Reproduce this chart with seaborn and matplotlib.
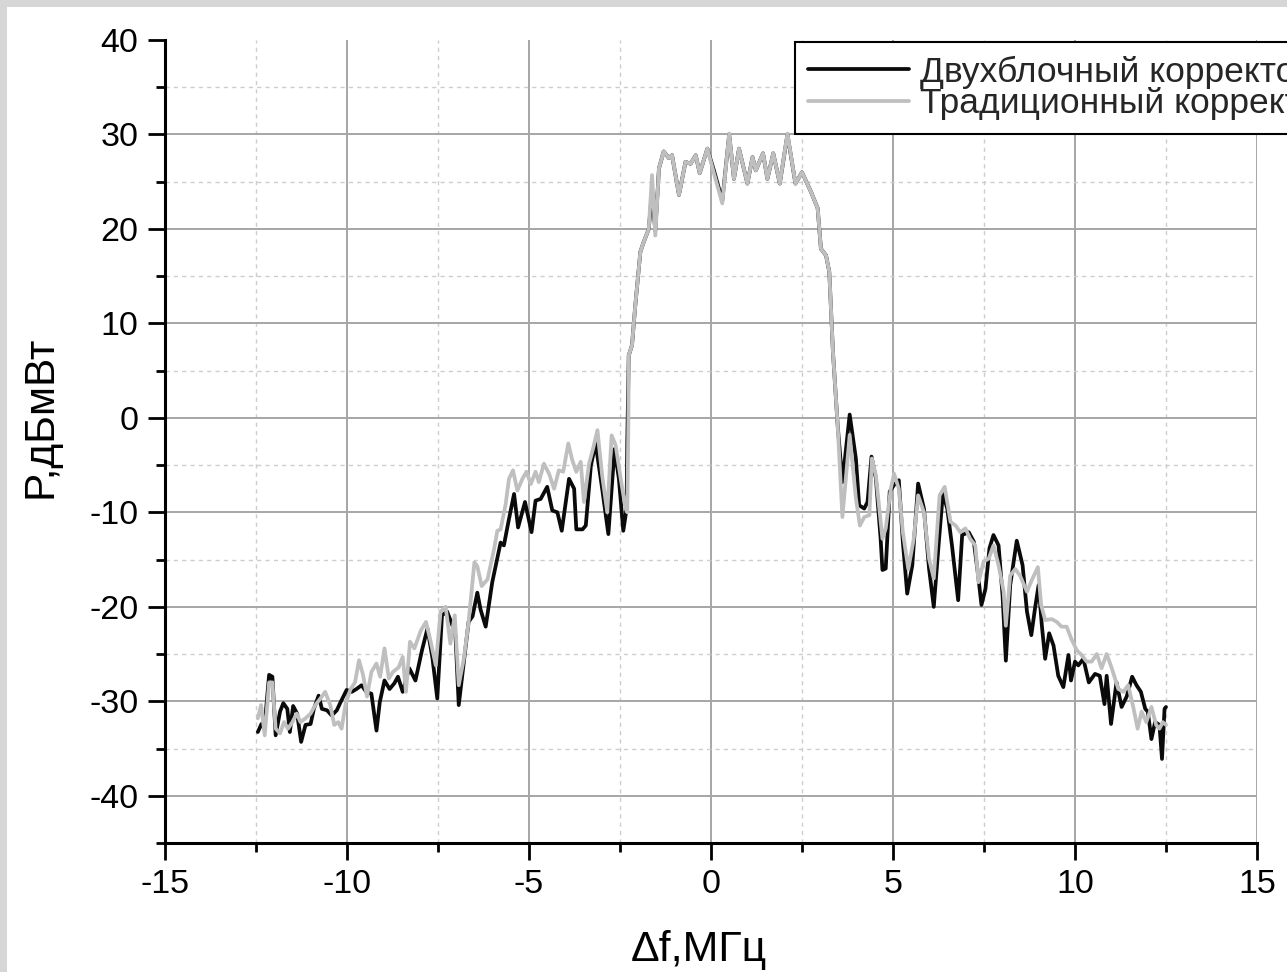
import matplotlib
matplotlib.use("Agg")
import matplotlib.pyplot as plt
import seaborn as sns
import pandas as pd
from matplotlib.legend_handler import HandlerLine2D
from matplotlib.patches import Rectangle
from matplotlib.ticker import MultipleLocator

# ---------------- data ----------------
series_names = ["Двухблочный корректор", "Традиционный корректор"]

freq_two_block = [
    -12.45, -12.35, -12.27, -12.14, -12.05, -11.96, -11.84, -11.75, -11.64, -11.57,
    -11.48, -11.37, -11.26, -11.14, -11.0, -10.91, -10.78, -10.69, -10.55, -10.42,
    -10.28, -10.19, -10.01, -9.87, -9.74, -9.6, -9.47, -9.33, -9.19, -9.1,
    -8.97, -8.83, -8.7, -8.6, -8.47, -8.29, -8.12, -7.94, -7.79, -7.65,
    -7.52, -7.39, -7.25, -7.11, -7.02, -6.93, -6.79, -6.66, -6.55, -6.42,
    -6.33, -6.19, -6.01, -5.78, -5.69, -5.55, -5.41, -5.3, -5.11, -4.93,
    -4.82, -4.68, -4.5, -4.36, -4.22, -4.1, -3.9, -3.76, -3.7, -3.53,
    -3.44, -3.3, -3.17, -2.99, -2.82, -2.65, -2.53, -2.41, -2.32, -2.3,
    -2.26, -2.17, -2.08, -1.94, -1.85, -1.71, -1.62, -1.53, -1.43, -1.3,
    -1.16, -1.07, -0.88, -0.7, -0.56, -0.42, -0.31, -0.1, 0.08, 0.31,
    0.5, 0.63, 0.77, 1.0, 1.14, 1.23, 1.43, 1.55, 1.71, 1.89,
    2.1, 2.32, 2.5, 2.75, 2.93, 3.02, 3.16, 3.25, 3.35, 3.48,
    3.61, 3.81, 3.98, 4.07, 4.21, 4.3, 4.41, 4.53, 4.66, 4.71,
    4.8, 4.91, 5.03, 5.16, 5.27, 5.39, 5.53, 5.69, 5.85, 5.99,
    6.12, 6.26, 6.37, 6.49, 6.62, 6.79, 6.9, 7.08, 7.22, 7.34,
    7.43, 7.54, 7.65, 7.76, 7.9, 8.01, 8.1, 8.22, 8.4, 8.56,
    8.68, 8.8, 8.9, 9.0, 9.09, 9.18, 9.29, 9.41, 9.54, 9.68,
    9.82, 9.89, 10.0, 10.09, 10.23, 10.38, 10.55, 10.68, 10.81, 10.87,
    10.99, 11.14, 11.28, 11.42, 11.57, 11.69, 11.81, 11.93, 12.0, 12.1,
    12.2, 12.32, 12.39, 12.46, 12.5,
]
power_two_block = [
    -33.25, -32.4, -32.9, -27.2, -27.4, -33.6, -31.1, -30.2, -30.8, -33.25,
    -30.5, -31.3, -34.3, -32.5, -32.4, -30.8, -29.4, -30.8, -30.95, -31.5,
    -30.95, -30.2, -28.8, -29.0, -28.7, -28.3, -29.0, -29.2, -33.1, -30.1,
    -27.8, -28.7, -28.1, -27.4, -29.0, -26.5, -27.8, -24.6, -22.3, -25.5,
    -29.7, -20.9, -20.5, -21.9, -23.0, -30.4, -25.8, -21.6, -21.0, -18.5,
    -20.3, -22.1, -17.4, -13.2, -13.5, -10.7, -8.05, -11.6, -8.9, -12.1,
    -8.76, -8.58, -7.3, -9.8, -10.0, -11.95, -6.45, -7.5, -11.8, -11.8,
    -11.4, -5.05, -2.7, -7.5, -12.3, -3.3, -6.45, -11.95, -9.65, -2.5,
    6.6, 7.7, 11.9, 17.6, 18.6, 20.0, 24.0, 19.8, 26.4, 28.2,
    27.5, 27.8, 23.6, 27.1, 26.9, 27.8, 25.9, 28.5, 26.2, 23.0,
    30.0, 25.3, 28.5, 24.8, 27.6, 26.2, 28.0, 25.3, 28.0, 24.8,
    30.0, 24.8, 26.0, 23.9, 22.2, 17.9, 17.2, 15.45, 7.0, -0.8,
    -6.8, 0.35, -4.3, -9.25, -9.6, -8.9, -4.1, -6.4, -12.8, -16.1,
    -15.95, -7.8, -7.1, -6.6, -13.1, -18.6, -15.6, -6.95, -9.6, -15.95,
    -20.0, -13.1, -8.0, -9.6, -13.5, -19.3, -12.4, -12.1, -13.1, -16.7,
    -19.8, -18.1, -13.8, -12.4, -13.5, -18.8, -25.7, -17.7, -13.0, -15.6,
    -20.5, -23.0, -20.2, -17.7, -22.0, -25.5, -22.8, -24.1, -27.3, -28.5,
    -25.1, -27.8, -25.8, -26.2, -25.5, -28.0, -27.1, -27.3, -30.3, -27.3,
    -32.4, -28.0, -30.6, -29.5, -27.4, -28.3, -29.0, -30.8, -31.1, -34.0,
    -32.2, -32.5, -36.1, -30.8, -30.6,
]

freq_traditional = [
    -12.45, -12.36, -12.26, -12.14, -12.05, -11.96, -11.84, -11.73, -11.62, -11.5,
    -11.38, -11.28, -11.14, -11.0, -10.87, -10.73, -10.6, -10.46, -10.35, -10.24,
    -10.15, -10.03, -9.9, -9.78, -9.67, -9.56, -9.45, -9.33, -9.19, -9.09,
    -8.97, -8.85, -8.74, -8.58, -8.47, -8.38, -8.27, -8.15, -7.97, -7.83,
    -7.7, -7.56, -7.43, -7.29, -7.16, -7.04, -6.93, -6.79, -6.66, -6.5,
    -6.42, -6.3, -6.14, -5.96, -5.87, -5.78, -5.64, -5.55, -5.44, -5.32,
    -5.18, -5.07, -4.95, -4.82, -4.73, -4.59, -4.45, -4.31, -4.18, -4.06,
    -3.92, -3.81, -3.7, -3.58, -3.49, -3.35, -3.24, -3.12, -2.99, -2.85,
    -2.73, -2.62, -2.48, -2.36, -2.3, -2.27, -2.26, -2.17, -2.08, -1.94,
    -1.85, -1.71, -1.62, -1.53, -1.43, -1.3, -1.16, -1.07, -0.88, -0.7,
    -0.56, -0.42, -0.31, -0.1, 0.08, 0.31, 0.5, 0.63, 0.77, 1.0,
    1.14, 1.23, 1.43, 1.55, 1.71, 1.89, 2.1, 2.32, 2.5, 2.75,
    2.93, 3.02, 3.16, 3.25, 3.35, 3.48, 3.61, 3.81, 3.98, 4.09,
    4.21, 4.35, 4.42, 4.53, 4.71, 4.8, 4.94, 5.03, 5.16, 5.27,
    5.42, 5.57, 5.69, 5.85, 5.99, 6.12, 6.28, 6.42, 6.58, 6.72,
    6.85, 6.99, 7.12, 7.26, 7.35, 7.49, 7.63, 7.76, 7.9, 8.04,
    8.1, 8.22, 8.36, 8.49, 8.68, 8.81, 8.98, 9.07, 9.18, 9.36,
    9.5, 9.63, 9.77, 9.9, 10.05, 10.18, 10.32, 10.46, 10.6, 10.73,
    10.87, 11.01, 11.19, 11.33, 11.46, 11.6, 11.72, 11.83, 11.96, 12.1,
    12.23, 12.32, 12.41, 12.5,
]
power_traditional = [
    -31.8, -30.4, -33.6, -28.0, -28.0, -32.9, -33.4, -32.2, -32.9, -32.2,
    -31.3, -32.2, -31.8, -31.3, -30.4, -29.7, -29.0, -30.4, -32.5, -32.2,
    -32.9, -30.1, -28.7, -28.0, -25.65, -27.2, -29.5, -26.9, -26.0, -27.4,
    -24.4, -27.6, -26.9, -26.4, -25.3, -29.0, -23.7, -24.4, -22.5, -21.6,
    -23.7, -26.2, -20.5, -20.0, -23.9, -20.9, -28.3, -25.5, -21.6, -15.3,
    -15.7, -17.8, -17.1, -13.9, -11.95, -11.8, -9.1, -6.45, -5.55, -7.7,
    -6.45, -5.7, -7.0, -5.7, -6.8, -4.85, -5.9, -7.5, -5.55, -5.7,
    -2.7, -4.5, -5.7, -4.65, -8.9, -4.85, -3.25, -1.3, -6.1, -10.0,
    -1.85, -2.9, -6.45, -9.3, -10.0, -0.4, 6.6, 7.7, 11.9, 17.6,
    18.6, 20.0, 25.7, 19.3, 26.4, 28.2, 27.5, 27.8, 23.6, 27.1,
    26.9, 27.8, 25.9, 28.5, 25.9, 22.7, 30.1, 25.3, 28.5, 24.8,
    27.6, 26.2, 28.0, 25.3, 28.0, 24.8, 30.1, 24.8, 26.0, 23.9,
    22.2, 17.9, 17.2, 15.45, 7.0, -0.8, -10.5, -1.8, -8.5, -11.4,
    -10.5, -10.3, -4.3, -6.1, -12.8, -11.7, -7.5, -5.9, -7.5, -12.1,
    -16.0, -12.8, -8.2, -10.0, -14.9, -17.0, -8.2, -7.3, -11.0, -11.4,
    -12.1, -11.7, -12.8, -13.5, -17.4, -15.2, -14.9, -13.5, -15.6, -18.4,
    -22.0, -16.7, -16.0, -16.7, -18.4, -17.2, -15.8, -19.8, -21.4, -21.3,
    -21.6, -22.1, -22.1, -23.4, -24.6, -25.1, -25.8, -25.8, -25.0, -26.5,
    -25.0, -26.5, -28.7, -29.0, -28.3, -30.6, -32.9, -31.1, -32.2, -30.6,
    -32.5, -32.9, -32.2, -32.5,
]

x_ticks = [-15, -10, -5, 0, 5, 10, 15]
y_ticks = [-40, -30, -20, -10, 0, 10, 20, 30, 40]
x_label = "Δf,МГц"
y_label = "P,дБмВт"

# ---------------- style ----------------
sns.set_theme(style="white")
plt.rcParams["font.family"] = ["Liberation Sans", "DejaVu Sans"]

W, H = 1287, 972
fig = plt.figure(figsize=(W / 100, H / 100), dpi=100, facecolor="#d6d6d6")
fig.patches.append(Rectangle((7 / W, 0), 1 - 7 / W, 1 - 7 / H, transform=fig.transFigure,
                             facecolor="white", edgecolor="none", zorder=-10))

ax = fig.add_axes([165 / W, 1 - 843 / H, (1257 - 165) / W, (843 - 40) / H])
ax.set_facecolor("white")
ax.set_zorder(1)

df_two = pd.DataFrame({"f": freq_two_block, "p": power_two_block})
df_trad = pd.DataFrame({"f": freq_traditional, "p": power_traditional})

black_c = "#0a0a0a"
grey_c = "#bfbfbf"
LW = 2.7
sns.lineplot(data=df_two, x="f", y="p", ax=ax, color=black_c, lw=LW, sort=False,
             estimator=None, label=series_names[0], zorder=3)
sns.lineplot(data=df_trad, x="f", y="p", ax=ax, color=grey_c, lw=LW, sort=False,
             estimator=None, label=series_names[1], zorder=4)

ax.set_xlim(-15, 15)
ax.set_ylim(-45, 40)
ax.set_xticks(x_ticks)
ax.set_yticks(y_ticks)
ax.xaxis.set_minor_locator(MultipleLocator(2.5))
ax.yaxis.set_minor_locator(MultipleLocator(5))
ax.set_xticklabels([str(v) for v in x_ticks])
ax.set_yticklabels([str(v) for v in y_ticks])

ax.grid(which="major", color="#a6a6a6", lw=1.4, ls="-", zorder=1)
ax.grid(which="minor", color="#cdcdcd", lw=1.0, ls=(0, (3, 3)), zorder=1)
ax.set_axisbelow(True)
for gl, v in zip(ax.get_ygridlines(), y_ticks):
    if v == 40:
        gl.set_visible(False)

for side in ["top", "right"]:
    ax.spines[side].set_visible(False)
for side in ["left", "bottom"]:
    ax.spines[side].set_visible(True)
    ax.spines[side].set_color("black")
    ax.spines[side].set_linewidth(2.2)

ax.tick_params(which="major", direction="out", length=12, width=2.0, color="black",
               labelsize=24.5, labelcolor="black")
ax.tick_params(which="minor", direction="out", length=6.5, width=2.0, color="black")
ax.tick_params(axis="y", which="major", pad=7)
ax.tick_params(axis="x", which="major", pad=7)
ax.tick_params(which="both", bottom=True, left=True)

ax.set_xlabel("")
ax.set_ylabel("")
fig.text(699 / W, 1 - 950 / H, x_label, fontsize=31, ha="center", va="center", color="black")
fig.text(41 / W, 1 - 417 / H, y_label, fontsize=30.5, ha="center", va="center",
         rotation=90, color="black")


class ShortHandler(HandlerLine2D):
    def create_artists(self, legend, orig_handle, xdescent, ydescent, width, height,
                       fontsize, trans):
        arts = super().create_artists(legend, orig_handle, xdescent, ydescent, width,
                                      height, fontsize, trans)
        for a in arts:
            xd = a.get_xdata()
            if len(xd) == 2:
                a.set_xdata([xd[0] + 0.21 * width, xd[1]])
        return arts


handles, labels = ax.get_legend_handles_labels()
leg = ax.legend(handles, labels, loc="upper left",
                bbox_to_anchor=(795 / W, 1 - 42 / H), bbox_transform=fig.transFigure,
                fontsize=25.5, frameon=True, fancybox=False, framealpha=1,
                edgecolor="black", borderpad=0.38, labelspacing=-0.04,
                handlelength=2.85, handletextpad=0.3, borderaxespad=0,
                handler_map={plt.Line2D: ShortHandler()})
leg.get_frame().set_linewidth(1.5)
for line in leg.get_lines():
    line.set_linewidth(LW)

fig.savefig("out.png", dpi=100, facecolor=fig.get_facecolor())
